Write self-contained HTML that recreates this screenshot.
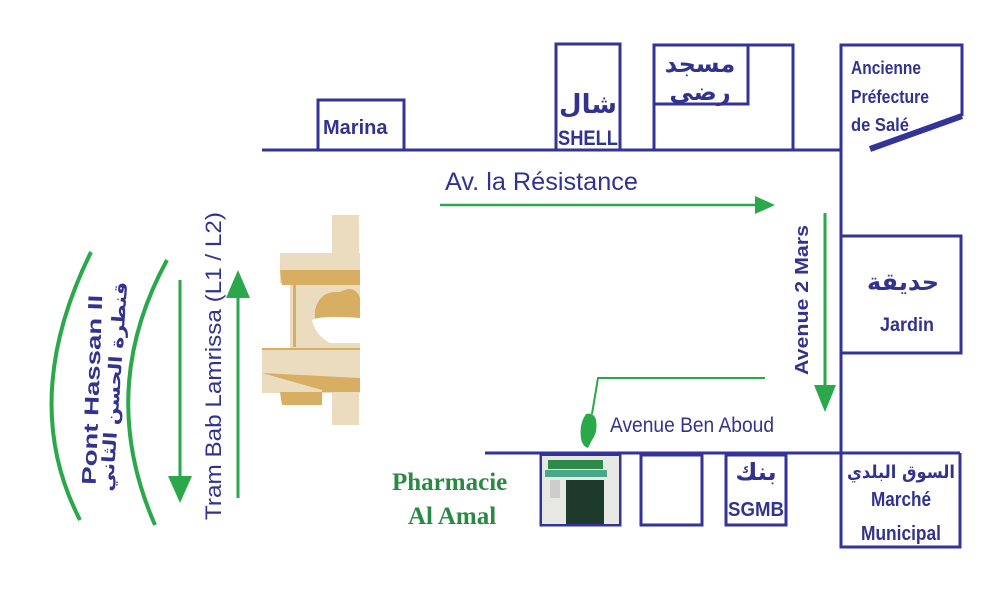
<!DOCTYPE html>
<html><head><meta charset="utf-8"><style>
html,body{margin:0;padding:0;background:#fff}
svg{display:block}
text{font-family:"Liberation Sans","Noto Sans CJK SC",sans-serif;fill:#33338f}
.ar{font-family:"DejaVu Sans",sans-serif;font-weight:bold}
</style></head><body>
<svg width="1005" height="592" viewBox="0 0 1005 592" xmlns="http://www.w3.org/2000/svg">
<g fill="none" stroke="#33339a" stroke-width="3">
<line x1="262" y1="150" x2="842" y2="150"/>
<rect x="318" y="100" width="86" height="50"/>
<rect x="556" y="44" width="64" height="106"/>
<rect x="654" y="45" width="139" height="105"/>
<rect x="654" y="45" width="94" height="59"/>
<polyline points="841,455 841,45 962,45 962,116"/>
<rect x="841" y="236" width="120" height="117"/>
<line x1="485" y1="453" x2="960" y2="453"/>
<rect x="541" y="455" width="79" height="70"/>
<rect x="641" y="455" width="61" height="70"/>
<rect x="726" y="455" width="60" height="70"/>
<polyline points="841,455 841,547 960,547 960,453"/>
</g>
<line x1="870" y1="149" x2="962" y2="116" stroke="#33339a" stroke-width="6"/>
<text x="323" y="134" font-size="20" font-weight="bold">Marina</text>
<text x="588" y="113" font-size="26" class="ar" text-anchor="middle">شال</text>
<text x="558" y="145" font-size="21" font-weight="bold" textLength="60" lengthAdjust="spacingAndGlyphs">SHELL</text>
<text x="700" y="72" font-size="24" class="ar" text-anchor="middle">مسجد</text>
<text x="700" y="100" font-size="24" class="ar" text-anchor="middle">رضى</text>
<text x="851" y="74" font-size="18" font-weight="bold" textLength="70" lengthAdjust="spacingAndGlyphs">Ancienne</text>
<text x="851" y="103" font-size="18" font-weight="bold" textLength="78" lengthAdjust="spacingAndGlyphs">Préfecture</text>
<text x="851" y="131" font-size="18" font-weight="bold" textLength="58" lengthAdjust="spacingAndGlyphs">de Salé</text>
<text x="445" y="190" font-size="25" textLength="193" lengthAdjust="spacingAndGlyphs">Av. la Résistance</text>
<text x="903" y="290" font-size="24" class="ar" text-anchor="middle">حديقة</text>
<text x="880" y="331" font-size="19" font-weight="bold" textLength="54" lengthAdjust="spacingAndGlyphs">Jardin</text>
<text x="610" y="432" font-size="21" textLength="164" lengthAdjust="spacingAndGlyphs">Avenue Ben Aboud</text>
<text x="756" y="480" font-size="24" class="ar" text-anchor="middle">بنك</text>
<text x="728" y="516" font-size="20" font-weight="bold" textLength="56" lengthAdjust="spacingAndGlyphs">SGMB</text>
<text x="901" y="478" font-size="18" class="ar" text-anchor="middle" textLength="108" lengthAdjust="spacingAndGlyphs">السوق البلدي</text>
<text x="901" y="506" font-size="20" font-weight="bold" text-anchor="middle" textLength="60" lengthAdjust="spacingAndGlyphs">Marché</text>
<text x="901" y="540" font-size="20" font-weight="bold" text-anchor="middle" textLength="80" lengthAdjust="spacingAndGlyphs">Municipal</text>
<text x="392" y="490" font-size="25" font-weight="bold" style="font-family:'Liberation Serif',serif;fill:#2a8a44">Pharmacie</text>
<text x="408" y="524" font-size="25" font-weight="bold" style="font-family:'Liberation Serif',serif;fill:#2a8a44">Al Amal</text>
<text transform="translate(808,375) rotate(-90)" font-size="18" font-weight="bold" textLength="150" lengthAdjust="spacingAndGlyphs">Avenue 2 Mars</text>
<text transform="translate(221,520) rotate(-90)" font-size="22" textLength="308" lengthAdjust="spacingAndGlyphs">Tram Bab Lamrissa (L1 / L2)</text>
<text transform="translate(99,390) rotate(-88)" font-size="20" font-weight="bold" text-anchor="middle" textLength="190" lengthAdjust="spacingAndGlyphs">Pont Hassan II</text>
<text transform="translate(120,387) rotate(-86)" font-size="18" class="ar" text-anchor="middle" textLength="210" lengthAdjust="spacingAndGlyphs">قنطرة الحسن الثاني</text>
<g stroke="#2aa84a" fill="none">
<path d="M91,252 Q18,400 80,520" stroke-width="4"/>
<path d="M167,260 Q96,390 155,525" stroke-width="4"/>
<line x1="440" y1="205" x2="760" y2="205" stroke-width="2.5"/>
<line x1="825" y1="213" x2="825" y2="392" stroke-width="3"/>
<line x1="180" y1="280" x2="180" y2="482" stroke-width="3"/>
<line x1="238" y1="290" x2="238" y2="498" stroke-width="3"/>
<polyline points="765,378 598,378 592,414" stroke-width="2"/>
</g>
<g fill="#2aa84a">
<polygon points="775,205 755,196 755,214"/>
<polygon points="825,412 814,385 836,385"/>
<polygon points="180,503 168,476 192,476"/>
<polygon points="238,270 226,298 250,298"/>
<path d="M586,414 q8,-2 10,6 q2,12 -4,20 l-4,8 q-6,-2 -7,-10 q-2,-14 5,-24z"/>
</g>
<g>
<rect x="332" y="215" width="27" height="210" fill="#ecdcbf"/>
<rect x="280" y="253" width="80" height="30" fill="#ecdcbf"/>
<rect x="290" y="283" width="70" height="68" fill="#ecdcbf"/>
<rect x="262" y="348" width="98" height="45" fill="#ecdcbf"/>
<polygon points="280,270 360,270 360,285 282,285" fill="#d8ae62"/>
<rect x="293" y="285" width="3" height="62" fill="#d8ae62"/>
<polygon points="262,373 360,378 360,392 280,392 282,405 322,405 322,390" fill="#d8ae62"/>
<path d="M315,310 q5,-20 25,-18 q15,-8 20,6 v30 q-15,10 -45,0z" fill="#d8ae62"/>
<path d="M312,320 q10,-5 48,-2 v25 h-30 q-15,-8 -18,-23z" fill="#fff"/>
<rect x="262" y="348" width="98" height="2" fill="#d8ae62"/>
</g>
<rect x="542" y="456" width="77" height="68" fill="#e8e8e2"/>
<rect x="548" y="460" width="55" height="9" fill="#2d8a4a"/>
<rect x="545" y="470" width="62" height="7" fill="#4aa88a"/>
<rect x="566" y="480" width="38" height="44" fill="#1e3a2a"/>
<rect x="550" y="480" width="10" height="18" fill="#ccc"/>
</svg>
</body></html>
